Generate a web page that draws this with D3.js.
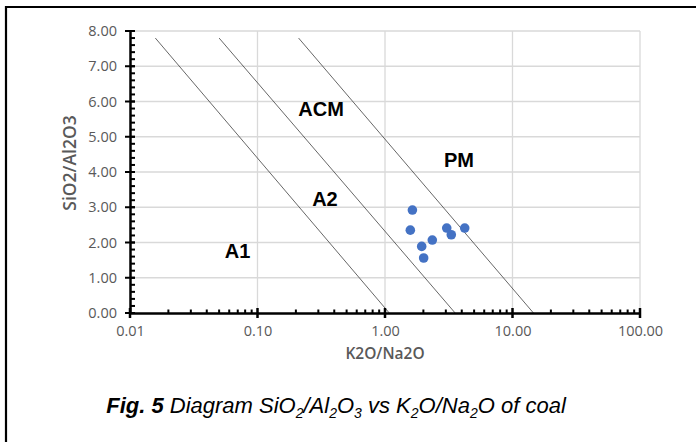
<!DOCTYPE html>
<html>
<head>
<meta charset="utf-8">
<script src="https://cdn.jsdelivr.net/npm/d3@7"></script>
<style>
  body { margin: 0; background: #fff; }
  svg { display: block; }
</style>
</head>
<body>
<div id="vis"></div>
<script>
// datos
const ratioK2ONa2O = [1.64, 1.58, 3.05, 3.31, 4.22, 2.35, 1.94, 2.01];
const ratioSiO2Al2O3 = [2.92, 2.35, 2.41, 2.22, 2.41, 2.07, 1.89, 1.56];

// lineas divisorias (inicio y fin)
const limiteX = [[0.0158, 1.08], [0.05, 3.55], [0.21, 14.6]];
const limiteY = [[7.8, 0], [7.8, 0], [7.8, 0]];

const regiones = ["ACM", "PM", "A2", "A1"];
const regionX = [0.315, 3.8, 0.338, 0.0697];
const regionY = [5.73, 4.3, 3.19, 1.7];

const ticksY = [0, 1, 2, 3, 4, 5, 6, 7, 8];
const ticksX = [0.01, 0.1, 1, 10, 100];

const WIDTH = 696;
const HEIGHT = 442;
const MARGIN = { top: 31, bottom: 129, left: 130, right: 56 };
const W = WIDTH - MARGIN.left - MARGIN.right;
const H = HEIGHT - MARGIN.top - MARGIN.bottom;

const SVG = d3.select("#vis").append("svg")
    .attr("width", WIDTH)
    .attr("height", HEIGHT);

// marco de la figura (solo arriba e izquierda visibles)
SVG.append("line")
    .attr("x1", 5).attr("x2", WIDTH).attr("y1", 7).attr("y2", 7)
    .attr("stroke", "black").attr("stroke-width", 2.2);
SVG.append("line")
    .attr("x1", 6).attr("x2", 6).attr("y1", 6).attr("y2", HEIGHT)
    .attr("stroke", "black").attr("stroke-width", 2.2);

const xScale = d3.scaleLog().domain([0.01, 100]).range([0, W]);
const yScale = d3.scaleLinear().domain([0, 8]).range([H, 0]);

const g = SVG.append("g")
    .attr("transform", `translate(${MARGIN.left}, ${MARGIN.top})`);

// grilla
g.append("g")
    .selectAll("line")
    .data(ticksY.slice(1))
    .join("line")
    .attr("x1", 0).attr("x2", W)
    .attr("y1", d => yScale(d)).attr("y2", d => yScale(d))
    .attr("stroke", "#d9d9d9").attr("stroke-width", 1.3);

g.append("g")
    .selectAll("line")
    .data(ticksX.slice(1))
    .join("line")
    .attr("x1", d => xScale(d)).attr("x2", d => xScale(d))
    .attr("y1", 0).attr("y2", H)
    .attr("stroke", "#d9d9d9").attr("stroke-width", 1.3);

// lineas divisorias
g.append("g")
    .selectAll("line")
    .data(limiteX)
    .join("line")
    .attr("x1", d => xScale(d[0]))
    .attr("x2", d => xScale(d[1]))
    .attr("y1", (d, i) => yScale(limiteY[i][0]))
    .attr("y2", (d, i) => yScale(limiteY[i][1]))
    .attr("stroke", "#404040")
    .attr("stroke-width", 0.8);

// eje Y
const minorY = d3.range(0, 8.001, 0.2);
const ejeY = g.append("g");
ejeY.call(d3.axisLeft(yScale).tickValues(ticksY).tickFormat(d3.format(".2f")).tickSize(0).tickPadding(13));
ejeY.select(".domain").attr("stroke", "black").attr("stroke-width", 2.5);
ejeY.selectAll("text")
    .attr("fill", "#595959")
    .style("font-family", "Open Sans")
    .style("font-size", "14.5px");
ejeY.append("g")
    .selectAll("line")
    .data(minorY)
    .join("line")
    .attr("x1", 0).attr("x2", 5)
    .attr("y1", d => yScale(d)).attr("y2", d => yScale(d))
    .attr("stroke", "black").attr("stroke-width", 2);
ejeY.append("g")
    .selectAll("line")
    .data(ticksY)
    .join("line")
    .attr("x1", -5).attr("x2", 5)
    .attr("y1", d => yScale(d)).attr("y2", d => yScale(d))
    .attr("stroke", "black").attr("stroke-width", 2);

// eje X
const minorX = [];
ticksX.slice(0, -1).forEach(t => {
    for (let k = 2; k <= 9; k++) minorX.push(t * k);
});
const ejeX = g.append("g").attr("transform", `translate(0, ${H})`);
ejeX.call(d3.axisBottom(xScale).tickValues(ticksX).tickFormat(d3.format(".2f")).tickSize(0).tickPadding(13));
ejeX.select(".domain").attr("stroke", "black").attr("stroke-width", 2.5);
ejeX.selectAll("text")
    .attr("fill", "#595959")
    .style("font-family", "Open Sans")
    .style("font-size", "14.5px");
ejeX.append("g")
    .selectAll("line")
    .data(minorX)
    .join("line")
    .attr("x1", d => xScale(d)).attr("x2", d => xScale(d))
    .attr("y1", -3.5).attr("y2", 0)
    .attr("stroke", "black").attr("stroke-width", 2);
ejeX.append("g")
    .selectAll("line")
    .data(ticksX)
    .join("line")
    .attr("x1", d => xScale(d)).attr("x2", d => xScale(d))
    .attr("y1", -5).attr("y2", 5)
    .attr("stroke", "black").attr("stroke-width", 2.5);

// regiones
g.append("g")
    .selectAll("text")
    .data(regiones)
    .join("text")
    .attr("x", (d, i) => xScale(regionX[i]))
    .attr("y", (d, i) => yScale(regionY[i]))
    .attr("text-anchor", "middle")
    .attr("dominant-baseline", "middle")
    .attr("font-family", "Liberation Sans, Arial")
    .attr("font-weight", "bold")
    .attr("font-size", 20)
    .text(d => d);

// puntos
g.append("g")
    .selectAll("circle")
    .data(ratioK2ONa2O)
    .join("circle")
    .attr("cx", d => xScale(d))
    .attr("cy", (d, i) => yScale(ratioSiO2Al2O3[i]))
    .attr("r", 4.8)
    .attr("fill", "#4472C4");

// titulos de ejes
SVG.append("text")
    .text("SiO2/Al2O3")
    .attr("text-anchor", "middle")
    .attr("transform", "rotate(270)")
    .attr("x", -163)
    .attr("y", 76)
    .attr("fill", "#595959")
    .attr("font-family", "Open Sans")
    .attr("font-weight", 600)
    .attr("font-size", 17.5);

SVG.append("text")
    .text("K2O/Na2O")
    .attr("text-anchor", "middle")
    .attr("x", 385)
    .attr("y", 359)
    .attr("fill", "#595959")
    .attr("font-family", "Open Sans")
    .attr("font-weight", 600)
    .attr("font-size", 15.5);

// leyenda de la figura
const caption = SVG.append("text")
    .attr("text-anchor", "middle")
    .attr("x", 336)
    .attr("y", 413)
    .attr("font-family", "Liberation Sans, Arial")
    .attr("font-style", "italic")
    .attr("font-size", 22);

const partes = [
    ["Fig. 5", "b"], [" Diagram SiO", ""], ["2", "s"], ["/Al", ""], ["2", "s"], ["O", ""], ["3", "s"],
    [" vs K", ""], ["2", "s"], ["O/Na", ""], ["2", "s"], ["O of coal", ""]
];
partes.forEach(([t, tipo], i) => {
    const prev = i > 0 ? partes[i - 1][1] : "";
    const span = caption.append("tspan").text(t);
    if (tipo === "b") span.attr("font-weight", "bold");
    if (tipo === "s") span.attr("font-size", 14).attr("dy", 5);
    else if (prev === "s") span.attr("dy", -5);
});
</script>
</body>
</html>
